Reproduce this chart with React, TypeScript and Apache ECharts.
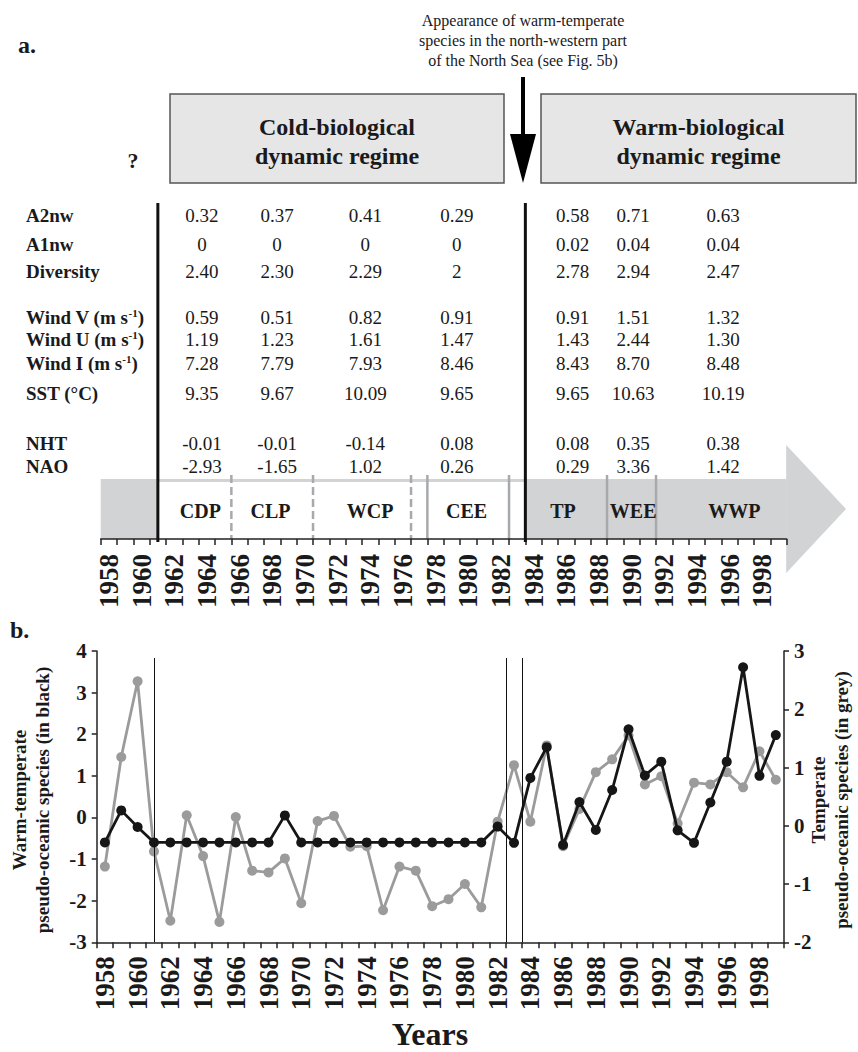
import React, { useEffect, useRef } from "react";
import * as echarts from "echarts";

// ---------------- DATA ----------------
const YEARS = [
  "1958", "1959", "1960", "1961", "1962", "1963", "1964", "1965", "1966", "1967",
  "1968", "1969", "1970", "1971", "1972", "1973", "1974", "1975", "1976", "1977",
  "1978", "1979", "1980", "1981", "1982", "1983", "1984", "1985", "1986", "1987",
  "1988", "1989", "1990", "1991", "1992", "1993", "1994", "1995", "1996", "1997",
  "1998", "1999",
];

// Panel b: warm-temperate pseudo-oceanic species (black, left axis)
const WARM_TEMPERATE = [
  -0.6, 0.17, -0.23, -0.6, -0.6, -0.6, -0.6, -0.6, -0.6, -0.6,
  -0.6, 0.05, -0.6, -0.6, -0.6, -0.6, -0.6, -0.6, -0.6, -0.6,
  -0.6, -0.6, -0.6, -0.6, -0.22, -0.61, 0.95, 1.69, -0.66, 0.37,
  -0.3, 0.66, 2.12, 1.01, 1.34, -0.31, -0.61, 0.36, 1.34, 3.61,
  1.0, 1.98,
];

// Panel b: temperate pseudo-oceanic species (grey, right axis)
const TEMPERATE = [
  -0.7, 1.18, 2.48, -0.44, -1.63, 0.18, -0.52, -1.65, 0.15, -0.77,
  -0.8, -0.56, -1.33, 0.08, 0.17, -0.36, -0.35, -1.45, -0.7, -0.77,
  -1.38, -1.26, -1.0, -1.4, 0.07, 1.04, 0.07, 1.38, -0.35, 0.29,
  0.92, 1.14, 1.55, 0.71, 0.85, 0.04, 0.74, 0.71, 0.92, 0.66,
  1.28, 0.79,
];

// Panel b vertical reference lines (years)
const PANEL_B_LINES = [1961, 1982.5, 1983.5];

// Panel a: periods
const PERIODS = ["CDP", "CLP", "WCP", "CEE", "TP", "WEE", "WWP"];
const DASHED_BOUNDARIES = [1965.5, 1970.5, 1976.5];
const SOLID_BOUNDARIES = [1977.5, 1982.5, 1988.5, 1991.5];
const REGIME_LINES = [1961, 1983.5];

// Panel a: table
const ROW_NAMES = ["A2nw", "A1nw", "Diversity", "Wind V", "Wind U", "Wind I", "SST (°C)", "NHT", "NAO"];
const ROW_UNITS = ["", "", "", "m s", "m s", "m s", "", "", ""];
const A2NW = ["0.32", "0.37", "0.41", "0.29", "0.58", "0.71", "0.63"];
const A1NW = ["0", "0", "0", "0", "0.02", "0.04", "0.04"];
const DIVERSITY = ["2.40", "2.30", "2.29", "2", "2.78", "2.94", "2.47"];
const WIND_V = ["0.59", "0.51", "0.82", "0.91", "0.91", "1.51", "1.32"];
const WIND_U = ["1.19", "1.23", "1.61", "1.47", "1.43", "2.44", "1.30"];
const WIND_I = ["7.28", "7.79", "7.93", "8.46", "8.43", "8.70", "8.48"];
const SST = ["9.35", "9.67", "10.09", "9.65", "9.65", "10.63", "10.19"];
const NHT = ["-0.01", "-0.01", "-0.14", "0.08", "0.08", "0.35", "0.38"];
const NAO = ["-2.93", "-1.65", "1.02", "0.26", "0.29", "3.36", "1.42"];
const TABLE = [A2NW, A1NW, DIVERSITY, WIND_V, WIND_U, WIND_I, SST, NHT, NAO];

const REGIMES = ["Cold-biological\ndynamic regime", "Warm-biological\ndynamic regime"];
const ANNOTATION =
  "Appearance of warm-temperate\nspecies in the north-western part\nof the North Sea (see Fig. 5b)";

// ---------------- LAYOUT ----------------
const FONT = "'Liberation Serif', 'Times New Roman', Times, serif";
const ROW_Y = [215, 244, 271, 317, 339, 363, 393, 443, 466];
const COL_AT = [1963.7, 1968.3, 1973.7, 1979.3, 1986.4, 1990.1, 1995.6];
const LABEL_AT = [1963.6, 1967.9, 1974.0, 1979.9, 1985.8, 1990.1, 1996.3];

const GRID_A = { left: 100.7, top: 470, width: 686, height: 69 };
const GRID_B = { left: 96.7, top: 651, width: 687.3, height: 291.3 };

export default function App() {
  const ref = useRef<HTMLDivElement>(null);

  useEffect(() => {
    if (!ref.current) return;
    const chart = echarts.init(ref.current, undefined, { renderer: "svg" });

    const axisLineStyle = { color: "#222", width: 1.5 };
    const yearLabel = {
      interval: 1,
      rotate: 90,
      fontFamily: FONT,
      fontWeight: "bold" as const,
      fontSize: 27,
      color: "#1a1a1a",
    };
    const yLabel = {
      fontFamily: FONT,
      fontWeight: "bold" as const,
      fontSize: 21,
      color: "#1a1a1a",
      margin: 10,
    };

    const option: any = {
      animation: false,
      backgroundColor: "#ffffff",
      grid: [
        { ...GRID_A, containLabel: false },
        { ...GRID_B, containLabel: false },
      ],
      xAxis: [
        {
          gridIndex: 0,
          type: "category",
          data: YEARS,
          boundaryGap: true,
          z: 10,
          axisLine: { show: true, lineStyle: axisLineStyle },
          axisTick: { show: true, interval: 0, length: 6, lineStyle: axisLineStyle },
          axisLabel: { ...yearLabel, margin: 15 },
          splitLine: { show: false },
        },
        { gridIndex: 0, type: "value", min: 1957.5, max: 1999.5, show: false },
        {
          gridIndex: 1,
          type: "category",
          data: YEARS,
          boundaryGap: true,
          z: 10,
          axisLine: { show: true, onZero: false, lineStyle: axisLineStyle },
          axisTick: { show: true, interval: 0, length: 6, lineStyle: axisLineStyle },
          axisLabel: { ...yearLabel, margin: 14 },
          splitLine: { show: false },
        },
        { gridIndex: 1, type: "value", min: 1957.5, max: 1999.5, show: false },
      ],
      yAxis: [
        { gridIndex: 0, type: "value", min: 0, max: 1, show: false },
        {
          gridIndex: 1,
          type: "value",
          min: -3,
          max: 4,
          interval: 1,
          position: "left",
          axisLine: { show: true, lineStyle: axisLineStyle },
          axisTick: { show: true, length: 5, lineStyle: axisLineStyle },
          axisLabel: yLabel,
          splitLine: { show: false },
        },
        {
          gridIndex: 1,
          type: "value",
          min: -2,
          max: 3,
          interval: 1,
          position: "right",
          axisLine: { show: true, lineStyle: axisLineStyle },
          axisTick: { show: true, length: 5, lineStyle: axisLineStyle },
          axisLabel: yLabel,
          splitLine: { show: false },
        },
      ],
      series: [
        {
          name: "Temperate",
          type: "line",
          xAxisIndex: 2,
          yAxisIndex: 2,
          data: TEMPERATE,
          symbol: "circle",
          symbolSize: 10,
          lineStyle: { color: "#9b9b9b", width: 2.8 },
          itemStyle: { color: "#9b9b9b" },
          z: 3,
        },
        {
          name: "Warm-temperate",
          type: "line",
          xAxisIndex: 2,
          yAxisIndex: 1,
          data: WARM_TEMPERATE,
          symbol: "circle",
          symbolSize: 10,
          lineStyle: { color: "#161616", width: 2.8 },
          itemStyle: { color: "#161616" },
          z: 4,
        },
        {
          type: "line",
          xAxisIndex: 3,
          yAxisIndex: 1,
          data: [],
          z: 2,
          markLine: {
            silent: true,
            symbol: ["none", "none"],
            label: { show: false },
            lineStyle: { color: "#111", width: 1, type: "solid" },
            data: PANEL_B_LINES.map((x) => [{ coord: [x, 3.83] }, { coord: [x, -3] }]),
          },
        },
      ],
    };

    chart.setOption(option);

    const px = (year: number) => chart.convertToPixel({ xAxisIndex: 1 }, year) as number;
    const x0 = px(1957.5);
    const x1 = px(1999.5);

    const g: any[] = [];
    const txt = (
      x: number,
      y: number,
      text: string,
      size: number,
      bold: boolean,
      align: string,
      extra: any = {}
    ) => ({
      type: "text",
      x,
      y,
      z: 20,
      silent: true,
      rotation: extra.rotation || 0,
      style: {
        text,
        fontFamily: FONT,
        fontSize: size,
        fontWeight: bold ? "bold" : "normal",
        fill: "#1a1a1a",
        align,
        verticalAlign: "middle",
        textAlign: align,
        textVerticalAlign: "middle",
        lineHeight: extra.lineHeight,
        rich: extra.rich,
      },
    });

    // Panel labels
    g.push(txt(18, 45, "a.", 24, true, "left"));
    g.push(txt(10, 630, "b.", 24, true, "left"));

    // Annotation + down arrow
    g.push(txt(523, 40, ANNOTATION, 16, false, "center", { lineHeight: 20 }));
    g.push({
      type: "line",
      z: 20,
      shape: { x1: 523, y1: 77, x2: 523, y2: 140 },
      style: { stroke: "#000", lineWidth: 4 },
    });
    g.push({
      type: "polygon",
      z: 20,
      shape: { points: [[510, 134], [536, 134], [523, 183]] },
      style: { fill: "#000" },
    });

    // Regime boxes
    const boxes = [
      { x: 170, w: 334 },
      { x: 541, w: 315 },
    ];
    boxes.forEach((b, i) => {
      g.push({
        type: "rect",
        z: 5,
        shape: { x: b.x, y: 94, width: b.w, height: 89 },
        style: { fill: "#e6e6e6", stroke: "#555", lineWidth: 1.5 },
      });
      g.push(txt(b.x + b.w / 2, 141, REGIMES[i], 24, true, "center", { lineHeight: 29 }));
    });
    g.push(txt(133, 160, "?", 22, true, "center"));

    // Big grey time arrow
    g.push({
      type: "rect",
      z: 1,
      shape: { x: x0, y: 479, width: x1 - x0, height: 60 },
      style: { fill: "#d1d3d4" },
    });
    g.push({
      type: "polygon",
      z: 1,
      shape: { points: [[x1 - 0.5, 445], [846, 509], [x1 - 0.5, 573]] },
      style: { fill: "#d1d3d4" },
    });
    g.push({
      type: "rect",
      z: 2,
      shape: { x: px(REGIME_LINES[0]), y: 482, width: px(REGIME_LINES[1]) - px(REGIME_LINES[0]), height: 57 },
      style: { fill: "#ffffff" },
    });
    DASHED_BOUNDARIES.forEach((yr) => {
      const x = px(yr);
      g.push({
        type: "line",
        z: 3,
        shape: { x1: x, y1: 475, x2: x, y2: 539 },
        style: { stroke: "#a7a9ac", lineWidth: 2.5, lineDash: [8, 4] },
      });
    });
    SOLID_BOUNDARIES.forEach((yr) => {
      const x = px(yr);
      g.push({
        type: "line",
        z: 3,
        shape: { x1: x, y1: 475, x2: x, y2: 539 },
        style: { stroke: "#a7a9ac", lineWidth: 2.5 },
      });
    });
    PERIODS.forEach((p, i) => {
      g.push(txt(px(LABEL_AT[i]), 511, p, 20, true, "center"));
    });
    REGIME_LINES.forEach((yr) => {
      const x = px(yr);
      g.push({
        type: "line",
        z: 15,
        shape: { x1: x, y1: 203, x2: x, y2: 542 },
        style: { stroke: "#111", lineWidth: 3 },
      });
    });

    // Table rows
    ROW_NAMES.forEach((name, r) => {
      const y = ROW_Y[r];
      if (ROW_UNITS[r]) {
        g.push(
          txt(26, y, `{b|${name} (${ROW_UNITS[r]}}{s|-1}{b|)}`, 19, true, "left", {
            rich: {
              b: { fontFamily: FONT, fontSize: 19, fontWeight: "bold", fill: "#1a1a1a", lineHeight: 20 },
              s: { fontFamily: FONT, fontSize: 11, fontWeight: "bold", fill: "#1a1a1a", verticalAlign: "top", lineHeight: 20 },
            },
          })
        );
      } else {
        g.push(txt(26, y, name, 19, true, "left"));
      }
      TABLE[r].forEach((v, c) => {
        g.push(txt(px(COL_AT[c]), y, v, 19, false, "center"));
      });
    });

    // Panel b axis titles
    g.push(
      txt(31, 800, "Warm-temperate\npseudo-oceanic species (in black)", 19, true, "center", {
        rotation: Math.PI / 2,
        lineHeight: 23,
      })
    );
    g.push(
      txt(830, 800, "Temperate\npseudo-oceanic species (in grey)", 19, true, "center", {
        rotation: Math.PI / 2,
        lineHeight: 23,
      })
    );
    g.push(txt(430, 1034, "Years", 32, true, "center"));

    chart.setOption({ graphic: { elements: g } });

    return () => chart.dispose();
  }, []);

  return (
    <div
      ref={ref}
      style={{ position: "absolute", left: 0, top: 0, width: 858, height: 1052, background: "#fff" }}
    />
  );
}
